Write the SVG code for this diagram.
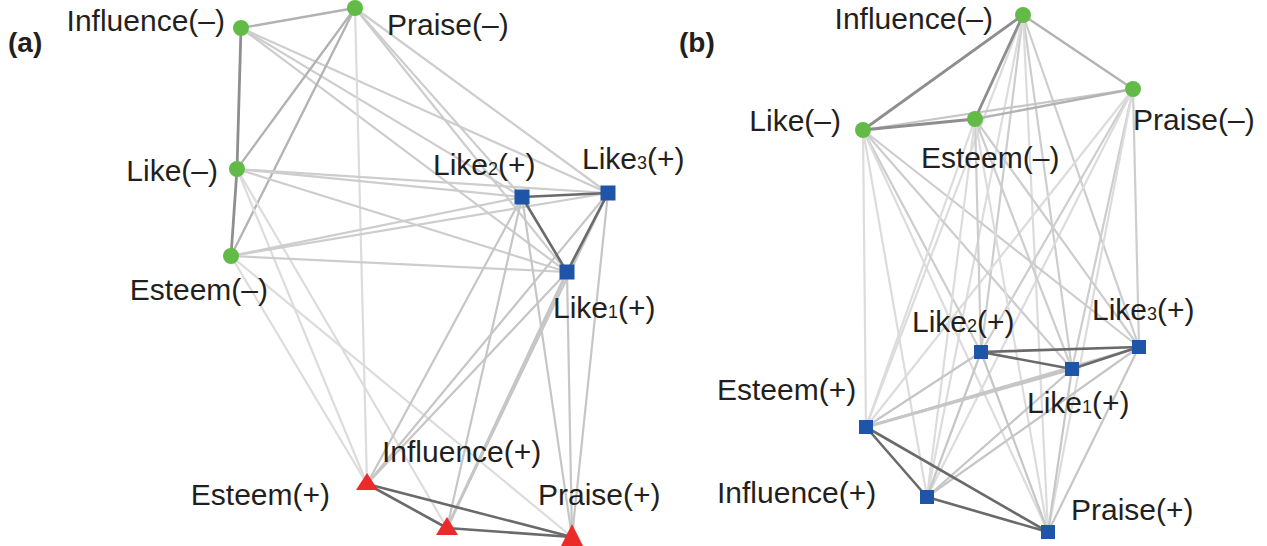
<svg xmlns="http://www.w3.org/2000/svg" width="1267" height="546" viewBox="0 0 1267 546">
<style>
.bg{fill:#ffffff}
line{stroke-linecap:round}
.e-d{stroke:#6a6a6a;stroke-width:2.6}
.e-n{stroke:#8e8e8e;stroke-width:2.8}
.e-nm{stroke:#b2b2b2;stroke-width:2.3}
.e-m{stroke:#c6c6c6;stroke-width:2.2}
.e-c{stroke:#cdcdcd;stroke-width:2.2}
.e-l{stroke:#dcdcdc;stroke-width:2.2}
.neg{fill:#62bb46}
.pos{fill:#1e55a8}
.tri{fill:#ec2a2a}
text{font-family:"Liberation Sans",Arial,sans-serif;font-size:30px;fill:#231f20}
.sub{font-size:18px}
.panel{font-weight:bold;font-size:28px}
</style>
<rect class="bg" x="0" y="0" width="1267" height="546"/>
<g id="connectors">
<!-- panel a -->
<line class="e-nm" x1="241" y1="28" x2="355" y2="8"/>
<line class="e-c" x1="241" y1="28" x2="522" y2="197"/>
<line class="e-c" x1="241" y1="28" x2="608" y2="193"/>
<line class="e-c" x1="241" y1="28" x2="567" y2="272"/>
<line class="e-nm" x1="355" y1="8" x2="237" y2="169"/>
<line class="e-nm" x1="355" y1="8" x2="231" y2="256"/>
<line class="e-c" x1="355" y1="8" x2="522" y2="197"/>
<line class="e-c" x1="355" y1="8" x2="608" y2="193"/>
<line class="e-c" x1="355" y1="8" x2="567" y2="272"/>
<line class="e-l" x1="355" y1="8" x2="367" y2="484"/>
<line class="e-c" x1="237" y1="169" x2="522" y2="197"/>
<line class="e-c" x1="237" y1="169" x2="608" y2="193"/>
<line class="e-c" x1="237" y1="169" x2="567" y2="272"/>
<line class="e-l" x1="237" y1="169" x2="367" y2="484"/>
<line class="e-l" x1="237" y1="169" x2="447" y2="528"/>
<line class="e-c" x1="231" y1="256" x2="522" y2="197"/>
<line class="e-c" x1="231" y1="256" x2="608" y2="193"/>
<line class="e-c" x1="231" y1="256" x2="567" y2="272"/>
<line class="e-l" x1="231" y1="256" x2="367" y2="484"/>
<line class="e-l" x1="231" y1="256" x2="572" y2="537"/>
<line class="e-m" x1="522" y1="197" x2="367" y2="484"/>
<line class="e-m" x1="522" y1="197" x2="447" y2="528"/>
<line class="e-m" x1="522" y1="197" x2="572" y2="537"/>
<line class="e-m" x1="608" y1="193" x2="367" y2="484"/>
<line class="e-m" x1="608" y1="193" x2="447" y2="528"/>
<line class="e-m" x1="608" y1="193" x2="572" y2="537"/>
<line class="e-m" x1="567" y1="272" x2="367" y2="484"/>
<line class="e-m" x1="567" y1="272" x2="447" y2="528" style="stroke-width:3"/>
<line class="e-m" x1="567" y1="272" x2="572" y2="537"/>
<line class="e-n" x1="241" y1="28" x2="237" y2="169"/>
<line class="e-n" x1="237" y1="169" x2="231" y2="256"/>
<line class="e-d" x1="522" y1="197" x2="608" y2="193"/>
<line class="e-d" x1="522" y1="197" x2="567" y2="272"/>
<line class="e-d" x1="608" y1="193" x2="567" y2="272"/>
<line class="e-d" x1="367" y1="484" x2="447" y2="528"/>
<line class="e-d" x1="367" y1="484" x2="572" y2="537"/>
<line class="e-d" x1="447" y1="528" x2="572" y2="537"/>
<!-- panel b -->
<line class="e-nm" x1="1023" y1="15" x2="1133" y2="89"/>
<line class="e-c" x1="1023" y1="15" x2="981" y2="352"/>
<line class="e-c" x1="1023" y1="15" x2="1139" y2="347"/>
<line class="e-c" x1="1023" y1="15" x2="1072" y2="369"/>
<line class="e-l" x1="1023" y1="15" x2="866" y2="427"/>
<line class="e-l" x1="1023" y1="15" x2="927" y2="497"/>
<line class="e-l" x1="1023" y1="15" x2="1048" y2="532"/>
<line class="e-m" x1="1133" y1="89" x2="863" y2="130"/>
<line class="e-nm" x1="1133" y1="89" x2="975" y2="119"/>
<line class="e-c" x1="1133" y1="89" x2="981" y2="352"/>
<line class="e-c" x1="1133" y1="89" x2="1139" y2="347"/>
<line class="e-c" x1="1133" y1="89" x2="1072" y2="369"/>
<line class="e-l" x1="1133" y1="89" x2="866" y2="427"/>
<line class="e-l" x1="1133" y1="89" x2="927" y2="497"/>
<line class="e-l" x1="1133" y1="89" x2="1048" y2="532"/>
<line class="e-c" x1="863" y1="130" x2="981" y2="352"/>
<line class="e-c" x1="863" y1="130" x2="1139" y2="347"/>
<line class="e-c" x1="863" y1="130" x2="1072" y2="369"/>
<line class="e-l" x1="863" y1="130" x2="866" y2="427"/>
<line class="e-l" x1="863" y1="130" x2="927" y2="497"/>
<line class="e-l" x1="863" y1="130" x2="1048" y2="532"/>
<line class="e-c" x1="975" y1="119" x2="981" y2="352"/>
<line class="e-c" x1="975" y1="119" x2="1139" y2="347"/>
<line class="e-c" x1="975" y1="119" x2="1072" y2="369"/>
<line class="e-l" x1="975" y1="119" x2="866" y2="427"/>
<line class="e-l" x1="975" y1="119" x2="927" y2="497"/>
<line class="e-l" x1="975" y1="119" x2="1048" y2="532"/>
<line class="e-m" x1="981" y1="352" x2="866" y2="427"/>
<line class="e-m" x1="981" y1="352" x2="927" y2="497"/>
<line class="e-m" x1="981" y1="352" x2="1048" y2="532"/>
<line class="e-m" x1="1139" y1="347" x2="866" y2="427"/>
<line class="e-m" x1="1139" y1="347" x2="927" y2="497"/>
<line class="e-m" x1="1139" y1="347" x2="1048" y2="532"/>
<line class="e-m" x1="1072" y1="369" x2="866" y2="427" style="stroke-width:3.2"/>
<line class="e-m" x1="1072" y1="369" x2="927" y2="497"/>
<line class="e-m" x1="1072" y1="369" x2="1048" y2="532"/>
<line class="e-n" x1="1023" y1="15" x2="863" y2="130"/>
<line class="e-n" x1="1023" y1="15" x2="975" y2="119"/>
<line class="e-n" x1="863" y1="130" x2="975" y2="119"/>
<line class="e-d" x1="981" y1="352" x2="1139" y2="347"/>
<line class="e-d" x1="981" y1="352" x2="1072" y2="369"/>
<line class="e-d" x1="1139" y1="347" x2="1072" y2="369"/>
<line class="e-d" x1="866" y1="427" x2="927" y2="497"/>
<line class="e-d" x1="866" y1="427" x2="1048" y2="532"/>
<line class="e-d" x1="927" y1="497" x2="1048" y2="532"/>
</g>
<text class="panel" x="8" y="52">(a)</text>
<text class="panel" x="679" y="52">(b)</text>
<!-- panel a nodes -->
<g id="a-influence-neg"><circle class="neg" cx="241" cy="28" r="8"/><text x="225" y="31" text-anchor="end">Influence(–)</text></g>
<g id="a-praise-neg"><circle class="neg" cx="355" cy="8" r="8"/><text x="387" y="35">Praise(–)</text></g>
<g id="a-like-neg"><circle class="neg" cx="237" cy="169" r="8"/><text x="218" y="181" text-anchor="end">Like(–)</text></g>
<g id="a-esteem-neg"><circle class="neg" cx="231" cy="256" r="8"/><text x="268" y="300" text-anchor="end">Esteem(–)</text></g>
<g id="a-like2-pos"><rect class="pos" x="514.5" y="189.5" width="15" height="15"/><text x="433" y="175">Like<tspan class="sub">2</tspan>(+)</text></g>
<g id="a-like3-pos"><rect class="pos" x="600.5" y="185.5" width="15" height="15"/><text x="582" y="169">Like<tspan class="sub">3</tspan>(+)</text></g>
<g id="a-like1-pos"><rect class="pos" x="559.5" y="264.5" width="15" height="15"/><text x="553" y="318">Like<tspan class="sub">1</tspan>(+)</text></g>
<g id="a-esteem-pos"><polygon class="tri" points="367,473 378,490 356,490"/><text x="330" y="505" text-anchor="end">Esteem(+)</text></g>
<g id="a-influence-pos"><polygon class="tri" points="447,517 458,535 436,535"/><text x="382" y="462">Influence(+)</text></g>
<g id="a-praise-pos"><polygon class="tri" points="572,524 583,546 561,546"/><text x="538" y="505">Praise(+)</text></g>
<!-- panel b nodes -->
<g id="b-influence-neg"><circle class="neg" cx="1023" cy="15" r="8"/><text x="993" y="29" text-anchor="end">Influence(–)</text></g>
<g id="b-praise-neg"><circle class="neg" cx="1133" cy="89" r="8"/><text x="1133" y="130">Praise(–)</text></g>
<g id="b-like-neg"><circle class="neg" cx="863" cy="130" r="8"/><text x="841" y="131" text-anchor="end">Like(–)</text></g>
<g id="b-esteem-neg"><circle class="neg" cx="975" cy="119" r="8"/><text x="921" y="168">Esteem(–)</text></g>
<g id="b-like2-pos"><rect class="pos" x="974" y="345" width="14" height="14"/><text x="912" y="332">Like<tspan class="sub">2</tspan>(+)</text></g>
<g id="b-like3-pos"><rect class="pos" x="1132" y="340" width="14" height="14"/><text x="1092" y="320">Like<tspan class="sub">3</tspan>(+)</text></g>
<g id="b-like1-pos"><rect class="pos" x="1065" y="362" width="14" height="14"/><text x="1027" y="413">Like<tspan class="sub">1</tspan>(+)</text></g>
<g id="b-esteem-pos"><rect class="pos" x="859" y="420" width="14" height="14"/><text x="717" y="400">Esteem(+)</text></g>
<g id="b-influence-pos"><rect class="pos" x="920" y="490" width="14" height="14"/><text x="717" y="503">Influence(+)</text></g>
<g id="b-praise-pos"><rect class="pos" x="1041" y="525" width="14" height="14"/><text x="1071" y="520">Praise(+)</text></g>
</svg>
